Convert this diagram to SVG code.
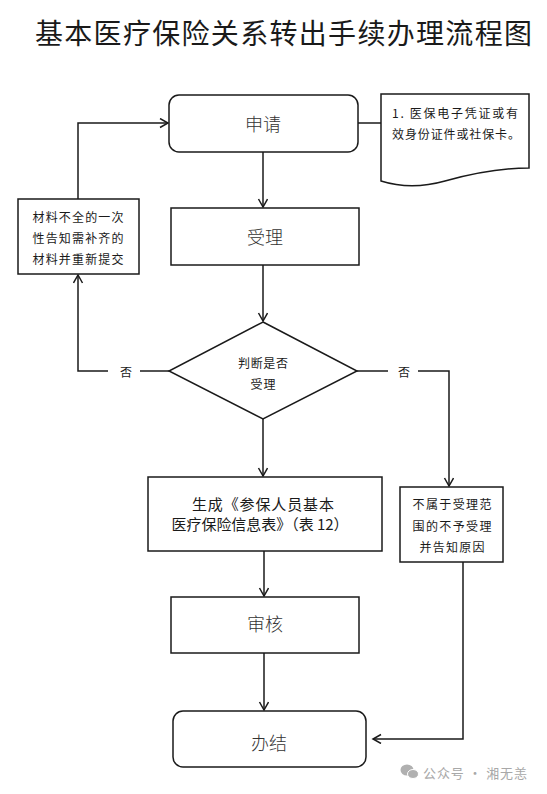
<svg xmlns="http://www.w3.org/2000/svg" width="547" height="794" viewBox="0 0 547 794">
<defs>
<style>
.box{fill:#fff;stroke:#1a1a1a;stroke-width:1.5}
.ln{fill:none;stroke:#1a1a1a;stroke-width:1.5}
.t{font-family:"Noto Sans CJK SC","Liberation Sans",sans-serif;fill:#1a1a1a;dominant-baseline:central;text-anchor:middle}
.big{font-size:18px;fill:#333;font-weight:300}
.sm{font-size:12px}
.md{font-size:15px}
</style>
<marker id="ar" markerUnits="userSpaceOnUse" markerWidth="12" markerHeight="12" refX="9" refY="5" orient="auto">
<path d="M1,0.5 L9,5 L1,9.5" fill="none" stroke="#1a1a1a" stroke-width="1.5"/>
</marker>
</defs>
<rect width="547" height="794" fill="#fff"/>
<text x="35" y="44" font-family="Noto Sans CJK SC,sans-serif" font-size="28" fill="#1a1a1a" textLength="497" lengthAdjust="spacing">基本医疗保险关系转出手续办理流程图</text>

<g id="connectors">
<line class="ln" x1="263" y1="152" x2="263" y2="207" marker-end="url(#ar)"/>
<line class="ln" x1="263" y1="265" x2="263" y2="321" marker-end="url(#ar)"/>
<line class="ln" x1="263" y1="419" x2="263" y2="476" marker-end="url(#ar)"/>
<line class="ln" x1="264" y1="551" x2="264" y2="596" marker-end="url(#ar)"/>
<line class="ln" x1="264" y1="653" x2="264" y2="710" marker-end="url(#ar)"/>
<line class="ln" x1="169" y1="371" x2="140" y2="371"/>
<polyline class="ln" points="108,371 78,371 78,275" marker-end="url(#ar)"/>
<polyline class="ln" points="78,199 78,123 168,123" marker-end="url(#ar)"/>
<line class="ln" x1="358" y1="123" x2="381" y2="123"/>
<line class="ln" x1="357" y1="371" x2="388" y2="371"/>
<polyline class="ln" points="418,371 449,371 449,486" marker-end="url(#ar)"/>
<polyline class="ln" points="463,562 463,739 373,739" marker-end="url(#ar)"/>
<text class="t sm" x="126" y="371">否</text>
<text class="t sm" x="404" y="371">否</text>
</g>

<g id="apply">
<rect class="box" x="169" y="95" width="189" height="57" rx="10"/>
<text class="t big" x="263" y="123">申请</text>
</g>

<g id="doc">
<path class="box" d="M381,94 H529 V168 C500,168 470,174 445,181 C420,188 400,187 381,181 Z"/>
<text class="t sm" x="455" y="112" textLength="126" lengthAdjust="spacing">1. 医保电子凭证或有</text>
<text class="t sm" x="456" y="133" textLength="128" lengthAdjust="spacing">效身份证件或社保卡。</text>
</g>

<g id="accept">
<rect class="box" x="171" y="208" width="188" height="57"/>
<text class="t big" x="265" y="236">受理</text>
</g>

<g id="resubmit">
<rect class="box" x="18" y="199" width="121" height="75"/>
<text class="t sm" x="78" y="216" textLength="91" lengthAdjust="spacing">材料不全的一次</text>
<text class="t sm" x="78" y="237" textLength="91" lengthAdjust="spacing">性告知需补齐的</text>
<text class="t sm" x="78" y="258" textLength="91" lengthAdjust="spacing">材料并重新提交</text>
</g>

<g id="decide">
<polygon class="box" points="263,322 357,371 263,419 169,371"/>
<text class="t sm" x="263" y="362" textLength="50" lengthAdjust="spacing">判断是否</text>
<text class="t sm" x="263" y="383" textLength="25" lengthAdjust="spacing">受理</text>
</g>

<g id="generate">
<rect class="box" x="148" y="477" width="234" height="74"/>
<text class="t md" x="263" y="503" textLength="142" lengthAdjust="spacing">生成《参保人员基本</text>
<text class="t md" x="260" y="523" textLength="177" lengthAdjust="spacing">医疗保险信息表》（表 12）</text>
</g>

<g id="reject">
<rect class="box" x="400" y="487" width="103" height="75"/>
<text class="t sm" x="452" y="503" textLength="79" lengthAdjust="spacing">不属于受理范</text>
<text class="t sm" x="452" y="525" textLength="79" lengthAdjust="spacing">围的不予受理</text>
<text class="t sm" x="452" y="546" textLength="65" lengthAdjust="spacing">并告知原因</text>
</g>

<g id="review">
<rect class="box" x="171" y="597" width="188" height="56"/>
<text class="t big" x="265" y="623">审核</text>
</g>

<g id="finish">
<rect class="box" x="173" y="711" width="193" height="56" rx="10"/>
<text class="t big" x="269" y="742">办结</text>
</g>

<g id="watermark" fill="#b0b0b0">
<ellipse cx="407" cy="770" rx="6.5" ry="5.5"/>
<ellipse cx="413" cy="774" rx="5.5" ry="4.5" stroke="#fff" stroke-width="1"/>
<text x="475" y="772" font-family="Noto Sans CJK SC,sans-serif" font-size="13" text-anchor="middle" dominant-baseline="central" fill="#a8a8a8" textLength="104" lengthAdjust="spacing">公众号 · 湘无恙</text>
</g>
</svg>
